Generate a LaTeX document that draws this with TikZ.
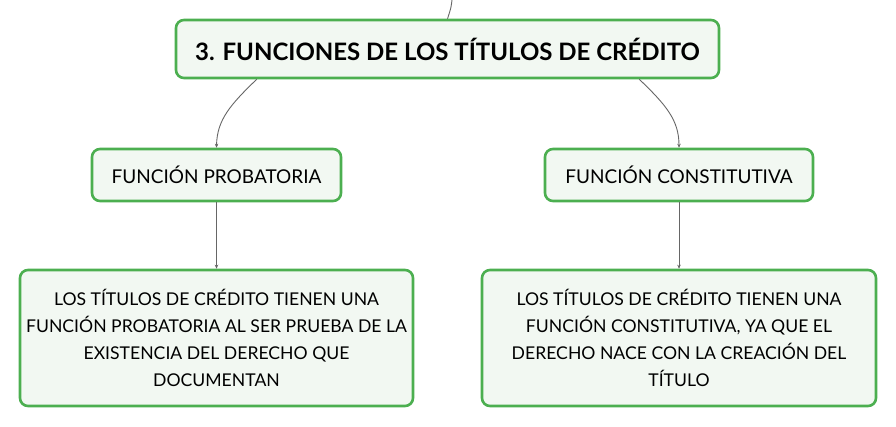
\documentclass[tikz,border=0pt]{standalone}
\usepackage{fontspec}
\setmainfont{Lato}
\usetikzlibrary{arrows.meta}
\definecolor{boxgreen}{HTML}{4CAF50}
\definecolor{boxfill}{HTML}{F2F8F2}
\definecolor{linkgray}{HTML}{666666}
\begin{document}
\begin{tikzpicture}[x=1pt,y=-1pt,
  box/.style={draw=boxgreen, line width=2.6pt, fill=boxfill, rounded corners=8pt, inner sep=0pt, align=center},
  link/.style={draw=linkgray, line width=0.9pt, -{Stealth[length=4pt,width=3.5pt]}},
  mid/.style={font=\fontsize{19}{24}\selectfont},
  body/.style={font=\fontsize{17.6}{27}\selectfont}]
\useasboundingbox (0,0) rectangle (896,426);
\node[box, minimum width=543pt, minimum height=58pt, font=\bfseries\fontsize{24}{28}\selectfont] (title) at (447.5,49) {3. FUNCIONES DE LOS TÍTULOS DE CRÉDITO};
\node[box, mid, minimum width=249pt, minimum height=52pt] (prob) at (216.5,175) {FUNCIÓN PROBATORIA};
\node[box, mid, minimum width=268pt, minimum height=52pt] (cons) at (679,175) {FUNCIÓN CONSTITUTIVA};
\node[box, body, minimum width=393pt, minimum height=136pt] (probtxt) at (216.5,338) {LOS TÍTULOS DE CRÉDITO TIENEN UNA\\FUNCIÓN PROBATORIA AL SER PRUEBA DE LA\\EXISTENCIA DEL DERECHO QUE\\DOCUMENTAN};
\node[box, body, minimum width=394pt, minimum height=136pt] (constxt) at (679,338) {LOS TÍTULOS DE CRÉDITO TIENEN UNA\\FUNCIÓN CONSTITUTIVA, YA QUE EL\\DERECHO NACE CON LA CREACIÓN DEL\\TÍTULO};
\coordinate (top) at (452,0);
\draw[draw=linkgray, line width=0.9pt] (top) .. controls (451,8) .. (title.north);
\draw[link] (title.south west) ++(82,0) coordinate (a1) (a1) .. controls (230,105) and (217,120) .. (prob.north);
\draw[link] (title.south east) ++(-81,0) coordinate (a2) (a2) .. controls (666,105) and (679,120) .. (cons.north);
\draw[link] (prob.south) -- (probtxt.north);
\draw[link] (cons.south) -- (constxt.north);
\end{tikzpicture}
\end{document}
